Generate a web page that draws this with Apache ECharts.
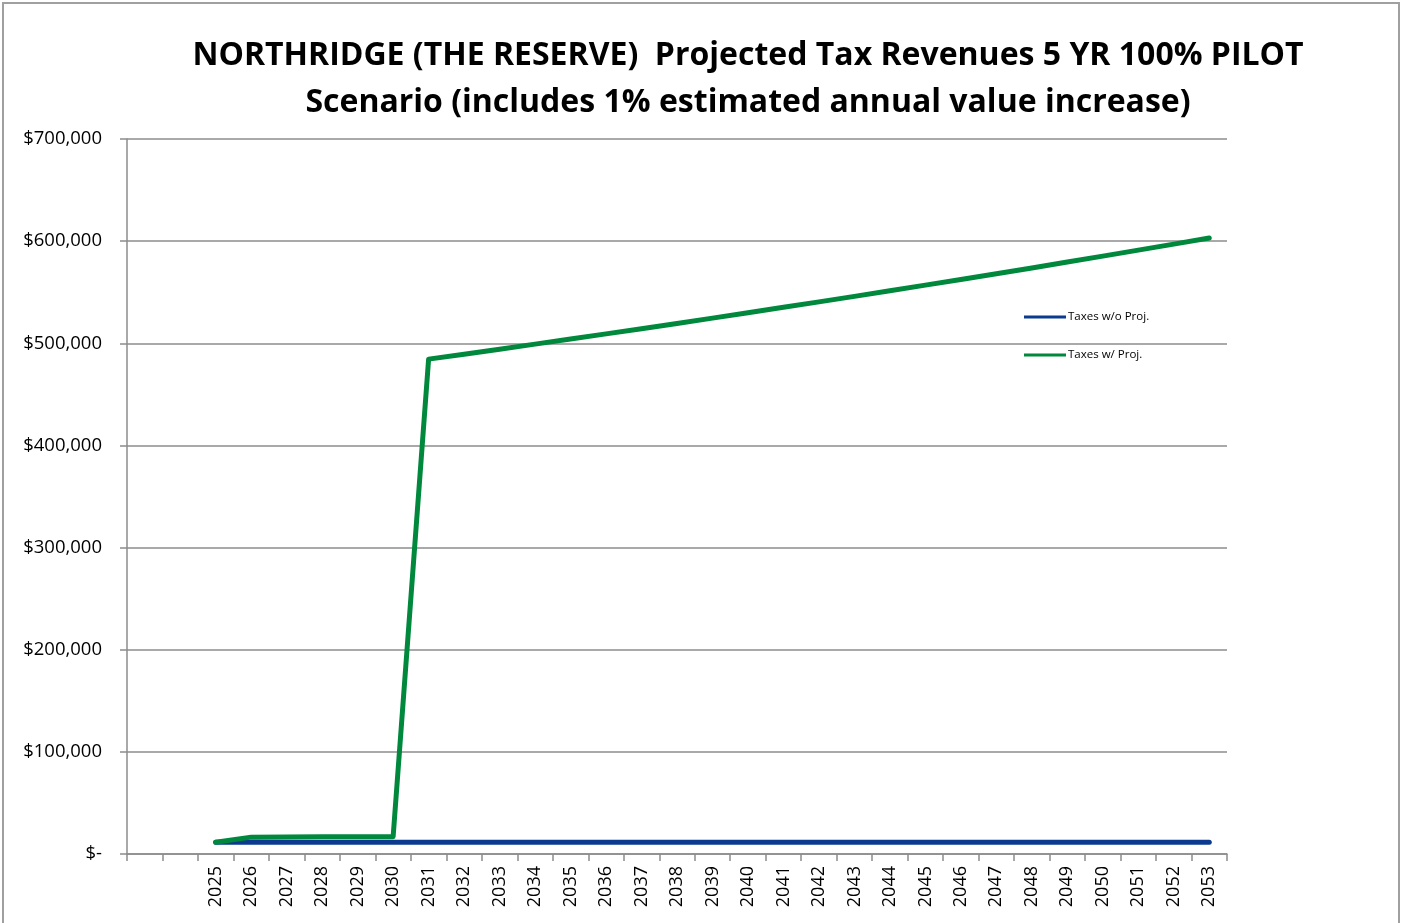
<!DOCTYPE html>
<html>
<head>
<meta charset="utf-8">
<script src="https://cdn.jsdelivr.net/npm/echarts@6/dist/echarts.min.js"></script>
<style>
html,body{margin:0;padding:0;background:#fff;}
#frame{position:absolute;left:2px;top:2px;width:1398px;height:960px;border:2px solid #a0a0a0;border-bottom:none;box-sizing:border-box;}
#chart{position:absolute;left:0;top:0;width:1403px;height:923px;}
</style>
</head>
<body>
<div id="frame"></div>
<div id="chart"></div>
<script>
const categories = ["", "", "2025","2026","2027","2028","2029","2030","2031","2032","2033","2034","2035","2036","2037","2038","2039","2040","2041","2042","2043","2044","2045","2046","2047","2048","2049","2050","2051","2052","2053"];
const taxesWithoutProj = [null, null, 11600,11600,11600,11600,11600,11600,11600,11600,11600,11600,11600,11600,11600,11600,11600,11600,11600,11600,11600,11600,11600,11600,11600,11600,11600,11600,11600,11600,11600];
const taxesWithProj = [null, null, 11600,16500,16700,16800,16900,17000,484500,489345,494238,499181,504173,509214,514306,519449,524644,529890,535189,540541,545947,551406,556920,562489,568114,573795,579533,585329,591182,597094,603065];
const yTicks = [0,100000,200000,300000,400000,500000,600000,700000];
const titleLines = ["NORTHRIDGE (THE RESERVE)  Projected Tax Revenues 5 YR 100% PILOT", "Scenario (includes 1% estimated annual value increase)"];

const chart = echarts.init(document.getElementById('chart'), null, {renderer:'canvas'});
const fontFam = '"Open Sans", "Noto Sans", sans-serif';
chart.setOption({
  animation:false,
  backgroundColor:'transparent',
  title:{
    text: titleLines.join('\n'),
    left: 743, top: 27, textAlign:'center',
    textStyle:{fontFamily:fontFam, fontWeight:'bold', fontSize:32, lineHeight:47, color:'#000'}
  },
  legend:[
    {data:[{name:'Taxes w/o Proj.'}], left:1019, top:306, orient:'vertical', itemWidth:42, itemHeight:3, itemGap:6,
     icon:'rect', textStyle:{fontFamily:fontFam, fontSize:11.5, color:'#000', padding:[0,0,0,-3]}},
    {data:[{name:'Taxes w/ Proj.'}], left:1019, top:344, orient:'vertical', itemWidth:42, itemHeight:3,
     icon:'rect', textStyle:{fontFamily:fontFam, fontSize:11.5, color:'#000', padding:[0,0,0,-3]}}
  ],
  grid:{left:127, right:176, top:139, bottom:69, containLabel:false},
  xAxis:{
    type:'category', data:categories, boundaryGap:true,
    axisLine:{lineStyle:{color:'#8c8c8c', width:1.5}},
    axisTick:{show:true, interval:0, length:7, lineStyle:{color:'#8c8c8c', width:1.5}},
    axisLabel:{interval:0, rotate:90, margin:12, fontFamily:fontFam, fontSize:18, color:'#000'},
    splitLine:{show:false}
  },
  yAxis:{
    type:'value', min:0, max:700000, interval:100000,
    axisLine:{show:true, lineStyle:{color:'#8c8c8c', width:1.5}},
    axisTick:{show:true, length:7, lineStyle:{color:'#8c8c8c', width:1.5}},
    axisLabel:{margin:25, fontFamily:fontFam, fontSize:18.5, color:'#000',
      formatter:function(v){ return v===0 ? '$-' : '$' + v.toLocaleString('en-US'); }},
    splitLine:{show:true, lineStyle:{color:'#8c8c8c', width:1.5}}
  },
  series:[
    {name:'Taxes w/o Proj.', type:'line', data:taxesWithoutProj, symbol:'none', color:'#0B3A8E',
     lineStyle:{width:5, color:'#0B3A8E', cap:'round', join:'round'}},
    {name:'Taxes w/ Proj.', type:'line', data:taxesWithProj, symbol:'none', color:'#00883D',
     lineStyle:{width:5, color:'#00883D', cap:'round', join:'round'}}
  ]
});
</script>
</body>
</html>
